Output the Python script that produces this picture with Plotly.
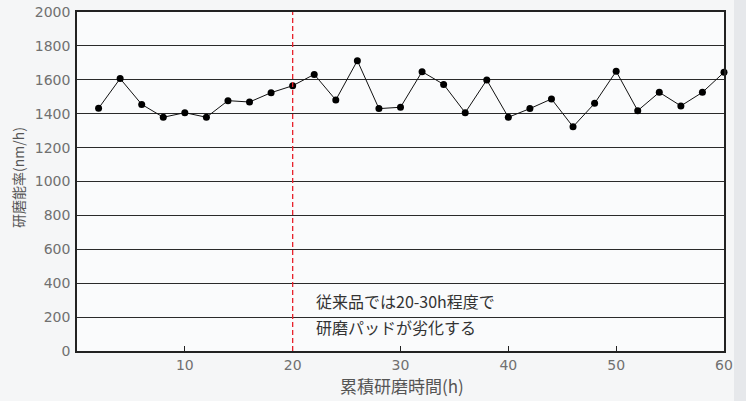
import plotly.graph_objects as go

hours = [2, 4, 6, 8, 10, 12, 14, 16, 18, 20, 22, 24, 26, 28, 30,
         32, 34, 36, 38, 40, 42, 44, 46, 48, 50, 52, 54, 56, 58, 60]
rate = [1432, 1607, 1455, 1379, 1406, 1379, 1477, 1469, 1524, 1565,
        1632, 1481, 1713, 1430, 1438, 1648, 1573, 1406, 1599, 1379,
        1430, 1487, 1323, 1461, 1650, 1418, 1526, 1446, 1526, 1644]
x_ticks = [10, 20, 30, 40, 50, 60]
y_ticks = [0, 200, 400, 600, 800, 1000, 1200, 1400, 1600, 1800, 2000]
marker_x = 20
note_lines = ["従来品では20-30h程度で", "研磨パッドが劣化する"]
x_title = "累積研磨時間(h)"
y_title = "研磨能率(nm/h)"

FONT = "DejaVu Sans, Noto Sans CJK JP, sans-serif"
CJK = "Noto Sans CJK JP, sans-serif"

W, H = 746, 401
L, R, T, B = 77, 22, 12, 50

fig = go.Figure()
fig.add_trace(go.Scatter(
    x=hours, y=rate, mode="lines+markers",
    line=dict(color="#111111", width=1),
    marker=dict(color="#000000", size=7),
    showlegend=False, hoverinfo="skip", cliponaxis=False))

fig.add_shape(type="line", x0=marker_x, x1=marker_x, y0=0, y1=2000,
              xref="x", yref="y",
              line=dict(color="#e8202a", width=1.3, dash="5px,3px"))

# annotation text (two lines)
fig.add_annotation(x=22, y=295, xref="x", yref="y", text=note_lines[0],
                   showarrow=False, xanchor="left", yanchor="middle",
                   font=dict(family=CJK, size=16, color="#333333"))
fig.add_annotation(x=22, y=142, xref="x", yref="y", text=note_lines[1],
                   showarrow=False, xanchor="left", yanchor="middle",
                   font=dict(family=CJK, size=16, color="#333333"))

# axis titles
fig.add_annotation(x=(402 - L) / (W - L - R), y=-(385 - (H - B)) / (H - T - B),
                   xref="paper", yref="paper",
                   text=x_title, showarrow=False, xanchor="center", yanchor="middle",
                   font=dict(family=CJK, size=17, color="#555555"))
fig.add_annotation(x=-(L - 18) / (W - L - R), y=(351 - 178) / (H - T - B),
                   xref="paper", yref="paper",
                   text=y_title, showarrow=False, textangle=-90,
                   xanchor="center", yanchor="middle",
                   font=dict(family=CJK, size=14, color="#555555"))

# right-edge shading of the page
fig.add_shape(type="rect", xref="paper", yref="paper",
              x0=(734 - L) / (W - L - R), x1=(W - L) / (W - L - R),
              y0=-B / (H - T - B), y1=(H - T) / (H - T - B),
              layer="below", line=dict(width=0), fillcolor="#e6e8eb")

fig.update_layout(
    width=W, height=H,
    margin=dict(l=L, r=R, t=T, b=B, autoexpand=False),
    paper_bgcolor="#f5f6f7",
    plot_bgcolor="#fafbfc",
    font=dict(family=FONT, size=14, color="#707070"),
    xaxis=dict(range=[0, 60], tickvals=x_ticks, ticks="inside", ticklen=5,
               tickcolor="#222222", showgrid=False, zeroline=False,
               showline=True, linecolor="#222222", linewidth=1.5, mirror=True,
               automargin=False,
               tickfont=dict(family=FONT, size=14, color="#707070")),
    yaxis=dict(range=[0, 2000], tickvals=y_ticks, ticks="", showgrid=True,
               gridcolor="#2a2a2a", gridwidth=1, zeroline=False,
               showline=True, linecolor="#222222", linewidth=1.5, mirror=True,
               automargin=False, ticklabelstandoff=2,
               tickfont=dict(family=FONT, size=14, color="#707070")),
)

fig.write_html("out.html", config={"displayModeBar": False},
               post_script="document.body.style.margin='0';document.body.style.overflow='hidden';")
